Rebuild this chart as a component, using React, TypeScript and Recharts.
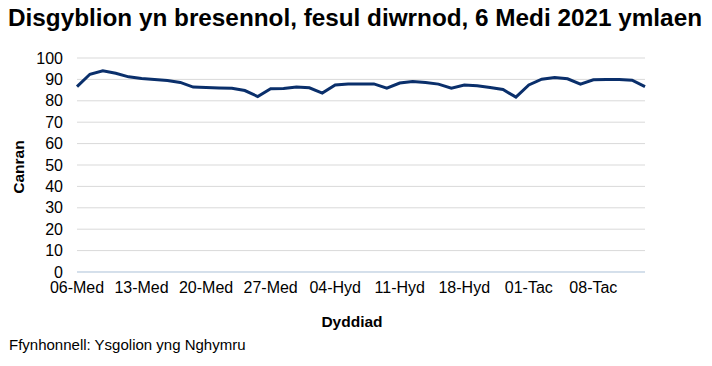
import React from 'react';
import { LineChart, Line, XAxis, YAxis, CartesianGrid } from 'recharts';

const dates: string[] = [
  '06-Med', '07-Med', '08-Med', '09-Med', '10-Med',
  '13-Med', '14-Med', '15-Med', '16-Med', '17-Med',
  '20-Med', '21-Med', '22-Med', '23-Med', '24-Med',
  '27-Med', '28-Med', '29-Med', '30-Med', '01-Hyd',
  '04-Hyd', '05-Hyd', '06-Hyd', '07-Hyd', '08-Hyd',
  '11-Hyd', '12-Hyd', '13-Hyd', '14-Hyd', '15-Hyd',
  '18-Hyd', '19-Hyd', '20-Hyd', '21-Hyd', '22-Hyd',
  '01-Tac', '02-Tac', '03-Tac', '04-Tac', '05-Tac',
  '08-Tac', '09-Tac', '10-Tac', '11-Tac', '12-Tac',
];

const attendance: number[] = [
  86.6, 92.4, 94.0, 92.9, 91.2,
  90.4, 90.0, 89.5, 88.6, 86.4,
  86.2, 86.0, 85.9, 84.8, 82.0,
  85.6, 85.7, 86.5, 86.1, 83.6,
  87.4, 87.9, 87.9, 87.9, 85.9,
  88.3, 89.0, 88.5, 87.8, 85.9,
  87.4, 87.0, 86.2, 85.3, 81.7,
  87.4, 90.1, 90.9, 90.3, 87.8,
  89.8, 90.0, 90.0, 89.6, 86.6,
];

const yTicks: number[] = [0, 10, 20, 30, 40, 50, 60, 70, 80, 90, 100];

const title = 'Disgyblion yn bresennol, fesul diwrnod, 6 Medi 2021 ymlaen';
const yLabel = 'Canran';
const xLabel = 'Dyddiad';
const source = 'Ffynhonnell: Ysgolion yng Nghymru';

const data = dates.map((d, i) => ({ date: d, value: attendance[i] }));

const FONT = '"Liberation Sans", Arial, sans-serif';

export default function App() {
  return (
    <div style={{ position: 'absolute', left: 0, top: 0, width: 712, height: 366, background: '#fff', fontFamily: FONT }}>
      <div style={{ position: 'absolute', left: 8, top: 4, fontSize: 24.3, fontWeight: 'bold', color: '#000', whiteSpace: 'nowrap', lineHeight: '28px' }}>
        {title}
      </div>
      <LineChart
        width={712}
        height={366}
        data={data}
        margin={{ top: 58, right: 67, bottom: 64, left: 0 }}
      >
        <CartesianGrid vertical={false} stroke="#d9d9d9" strokeWidth={1} />
        <XAxis
          dataKey="date"
          interval={4}
          tickLine={false}
          axisLine={{ stroke: '#bdd3ea', strokeWidth: 1 }}
          tick={{ fill: '#000', fontSize: 16, fontFamily: FONT }}
          tickMargin={4}
          height={30}
        />
        <YAxis
          domain={[0, 100]}
          ticks={yTicks}
          interval={0}
          width={77}
          tickLine={false}
          axisLine={false}
          tick={{ fill: '#000', fontSize: 16, fontFamily: FONT }}
          tickMargin={8}
        />
        <Line
          type="linear"
          dataKey="value"
          stroke="#0a2f6b"
          strokeWidth={3}
          dot={false}
          isAnimationActive={false}
        />
      </LineChart>
      <div style={{ position: 'absolute', left: 19, top: 167, transform: 'translate(-50%, -50%) rotate(-90deg)', fontSize: 15.5, fontWeight: 'bold', color: '#000', whiteSpace: 'nowrap' }}>
        {yLabel}
      </div>
      <div style={{ position: 'absolute', left: 352, top: 322, transform: 'translate(-50%, -50%)', fontSize: 15.5, fontWeight: 'bold', color: '#000', whiteSpace: 'nowrap' }}>
        {xLabel}
      </div>
      <div style={{ position: 'absolute', left: 9, top: 344, transform: 'translateY(-50%)', fontSize: 15, color: '#000', whiteSpace: 'nowrap' }}>
        {source}
      </div>
    </div>
  );
}
